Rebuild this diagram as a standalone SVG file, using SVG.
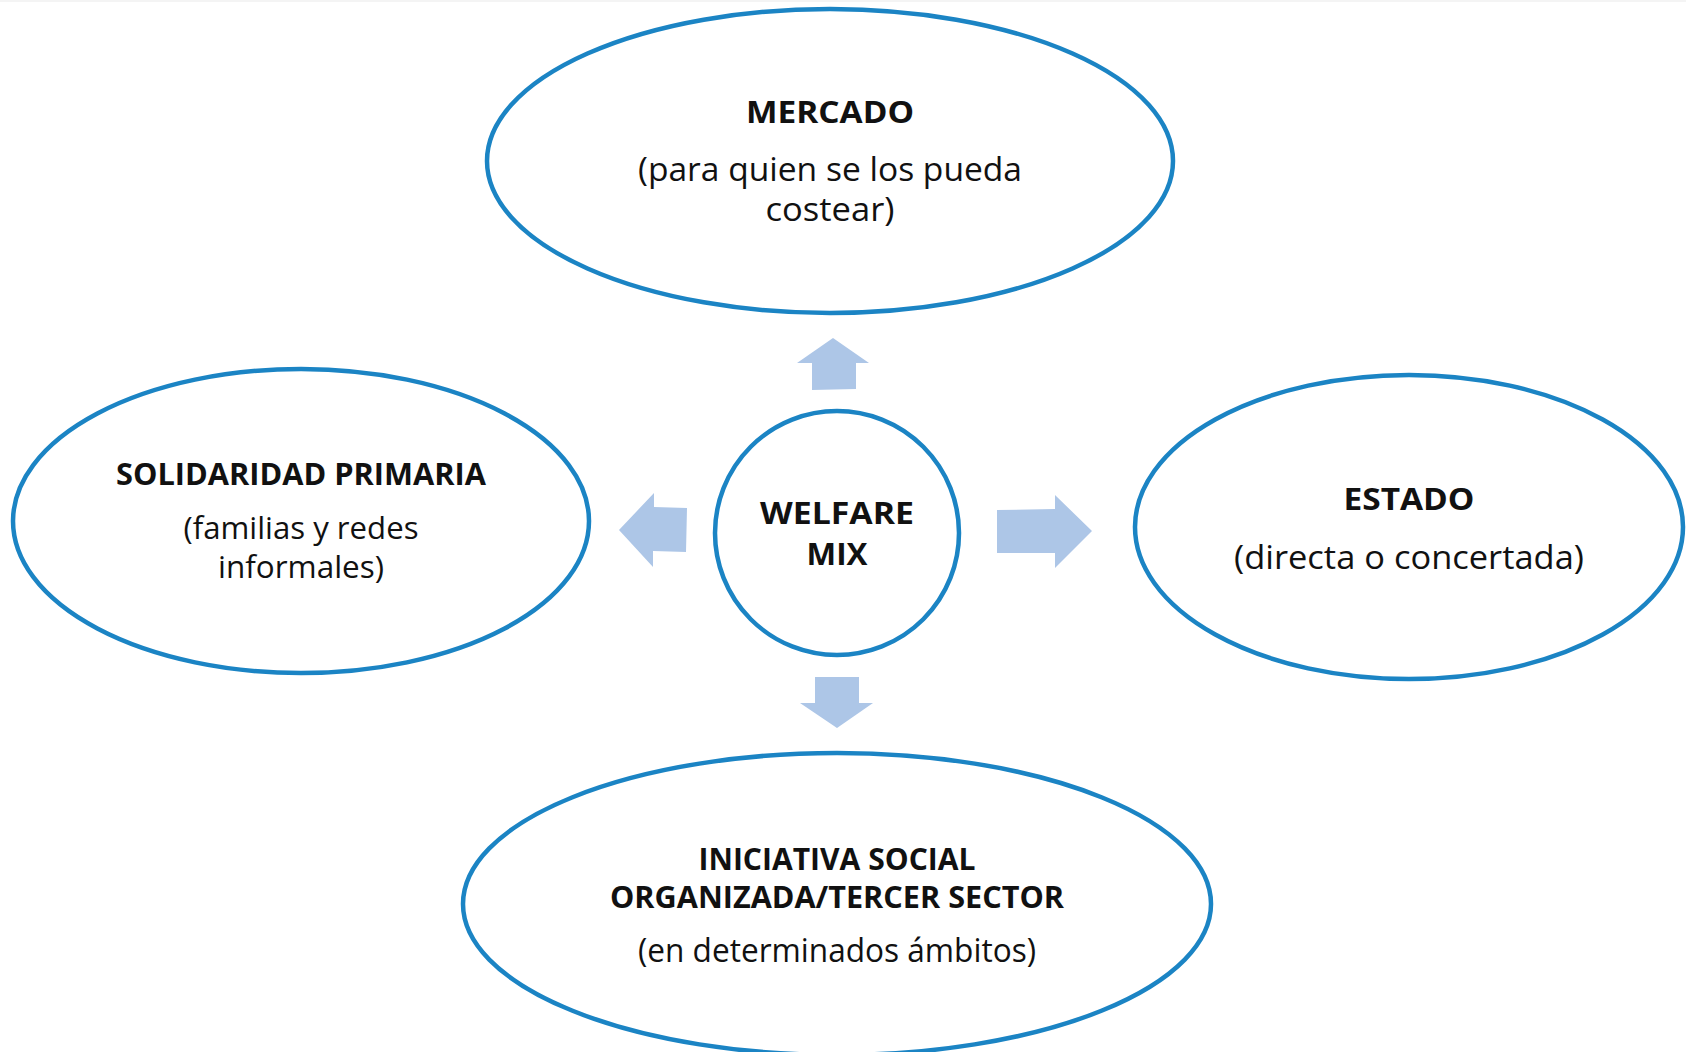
<svg xmlns="http://www.w3.org/2000/svg" width="1686" height="1052" viewBox="0 0 1686 1052">
<style>
.node{fill:#ffffff;stroke:#1B84C4;stroke-width:4.5}
.arrow{fill:#ADC6E7;stroke:none}
text{font-family:"Open Sans","Liberation Sans",sans-serif;fill:#111111;text-anchor:middle}
.b{font-weight:bold;font-size:31px}
.r{font-size:32px}
.rs{font-size:31px}
</style>
<rect x="0" y="0" width="1686" height="1052" fill="#ffffff"/>
<rect x="0" y="0" width="1686" height="2" fill="#f4f4f4"/>
<g id="connectors">
<polygon class="arrow" points="833,338 869,363 856,363 856,389 812,390 812,363 797,363"/>
<polygon class="arrow" points="815,677 859,677 859,703 873,703 837,728 800,703 815,703"/>
<polygon class="arrow" points="619,530 654,493 654,507 687,508 686,552 653,551 653,567"/>
<polygon class="arrow" points="997,510 1055,509 1055,495 1092,531 1055,568 1055,553 997,553"/>
</g>
<g id="mercado">
<ellipse class="node" cx="830" cy="161" rx="343" ry="152"/>
<text class="b" x="830" y="123" textLength="168" lengthAdjust="spacingAndGlyphs">MERCADO</text>
<text class="r" x="830" y="181" textLength="384" lengthAdjust="spacingAndGlyphs">(para quien se los pueda</text>
<text class="r" x="830" y="221" textLength="129" lengthAdjust="spacingAndGlyphs">costear)</text>
</g>
<g id="solidaridad">
<ellipse class="node" cx="301" cy="521" rx="288" ry="152"/>
<text class="b" x="301" y="485" textLength="370" lengthAdjust="spacingAndGlyphs">SOLIDARIDAD PRIMARIA</text>
<text class="rs" x="301" y="539" textLength="235" lengthAdjust="spacingAndGlyphs">(familias y redes</text>
<text class="rs" x="301" y="578" textLength="166" lengthAdjust="spacingAndGlyphs">informales)</text>
</g>
<g id="estado">
<ellipse class="node" cx="1409" cy="527" rx="274" ry="152"/>
<text class="b" x="1409" y="510" textLength="131" lengthAdjust="spacingAndGlyphs">ESTADO</text>
<text class="r" x="1409" y="569" textLength="350" lengthAdjust="spacingAndGlyphs">(directa o concertada)</text>
</g>
<g id="welfare">
<circle class="node" cx="837" cy="533" r="122"/>
<text class="b" x="837" y="524" textLength="154" lengthAdjust="spacingAndGlyphs">WELFARE</text>
<text class="b" x="837" y="565" textLength="61" lengthAdjust="spacingAndGlyphs">MIX</text>
</g>
<g id="iniciativa">
<ellipse class="node" cx="837" cy="904" rx="374" ry="151"/>
<text class="b" x="837" y="870" textLength="277" lengthAdjust="spacingAndGlyphs">INICIATIVA SOCIAL</text>
<text class="b" x="837" y="908" textLength="454" lengthAdjust="spacingAndGlyphs">ORGANIZADA/TERCER SECTOR</text>
<text class="r" x="837" y="962" textLength="398" lengthAdjust="spacingAndGlyphs">(en determinados ámbitos)</text>
</g>
</svg>
